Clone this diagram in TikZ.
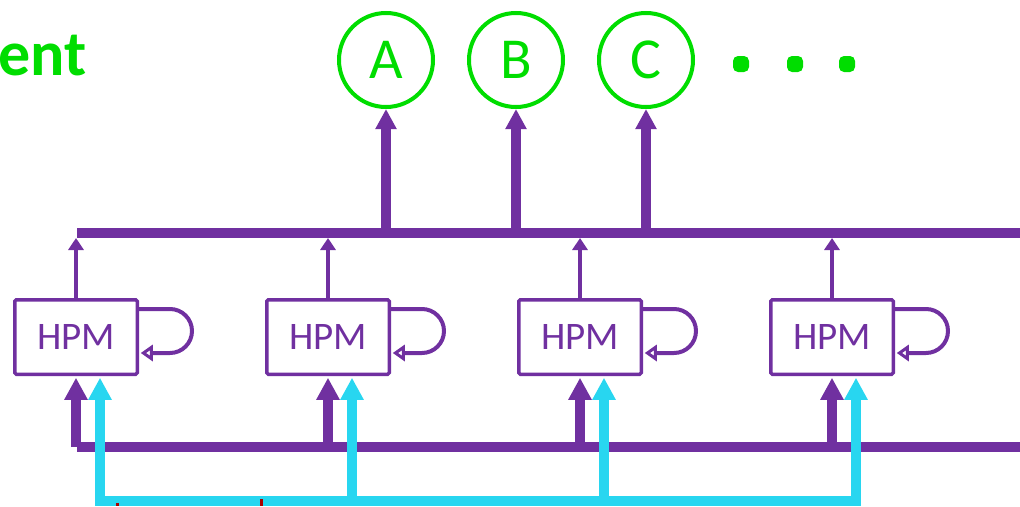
\documentclass[tikz,border=0pt]{standalone}
\usepackage{fontspec}
\setmainfont{Carlito}
\usetikzlibrary{arrows.meta}
\definecolor{pp}{RGB}{112,48,160}
\definecolor{gr}{RGB}{0,221,0}
\definecolor{cy}{RGB}{40,214,240}
\definecolor{dr}{RGB}{170,0,0}
\begin{document}
\begin{tikzpicture}[x=1pt,y=-1pt,
  hpm/.style={draw=pp, line width=3.5pt, rounded corners=1.5pt, minimum width=122.5pt, minimum height=74.5pt, text=pp, font=\fontsize{39}{39}\selectfont, inner sep=0pt},
  circ/.style={circle, draw=gr, line width=4pt, minimum size=94pt, text=gr, font=\fontsize{58}{58}\selectfont, inner sep=0pt},
  dotbox/.style={fill=gr, rounded corners=5pt, minimum size=16pt, inner sep=0pt},
  bus/.style={draw=pp, line width=10pt},
  bigarrow/.style={draw=pp, line width=10pt, -{Triangle[width=22pt,length=22pt]}},
  outarrow/.style={draw=pp, line width=10pt, -{Triangle[width=20pt,length=20pt]}},
  thinarrow/.style={draw=pp, line width=4pt, -{Triangle[width=15pt,length=12pt]}},
  looparrow/.style={draw=pp, line width=4pt, -{Triangle[open, width=16pt, length=12pt, fill=white]}},
  cyarrow/.style={draw=cy, line width=10pt, -{Triangle[width=22pt,length=22pt]}},
  cyline/.style={draw=cy, line width=10pt, line cap=rect}
]
\useasboundingbox (0,0) rectangle (1020,506);

% title fragment
\node[anchor=base east, text=gr, font=\fontsize{64}{64}\selectfont\bfseries, inner sep=0pt] (title) at (87,75) {ent};

% output circles
\node[circ] (A) at (386,60) {A};
\node[circ] (B) at (516,60) {B};
\node[circ] (C) at (646,60) {C};
\node[dotbox] (d1) at (741,64) {};
\node[dotbox] (d2) at (795,64) {};
\node[dotbox] (d3) at (847,64) {};

% buses
\coordinate (tbL) at (77,233);
\coordinate (tbR) at (1020,233);
\coordinate (tbB) at (0,238);
\coordinate (bbL) at (77,447);
\coordinate (bbR) at (1020,447);
\coordinate (cyb) at (0,501);

% HPM boxes
\foreach \i/\x in {1/76,2/328,3/580,4/832}{
  \node[hpm] (h\i) at (\x,337) {HPM};
}

\draw[bus] (tbL) -- (tbR);
\draw[bus] (bbL) -- (bbR);

\draw[outarrow] (A.south |- tbL) -- (A.south);
\draw[outarrow] (B.south |- tbL) -- (B.south);
\draw[outarrow] (C.south |- tbL) -- (C.south);

\foreach \i in {1,2,3,4}{
  \draw[thinarrow] (h\i.north) -- (h\i.north |- tbB);
  \draw[looparrow] ([yshift=28pt]h\i.east) -- ++(31,0)
      arc[start angle=90, end angle=-90, radius=22pt]
      -- ([yshift=-16pt,xshift=1.75pt]h\i.east);
  \draw[bigarrow] (h\i.south |- bbL) -- ([yshift=-1.75pt]h\i.south);
  \coordinate (c\i) at ([xshift=24pt]h\i.south);
}

\draw[cyline] (c1 |- cyb) -- (c4 |- cyb);
\foreach \i in {1,2,3,4}{
  \draw[cyarrow] (c\i |- cyb) -- ([yshift=-1.75pt]c\i);
}

% cut-off dark red marks
\fill[dr] (115.5,502.5) rectangle (118.5,506);
\fill[dr] (259.5,499) rectangle (262.5,506);
\end{tikzpicture}
\end{document}
